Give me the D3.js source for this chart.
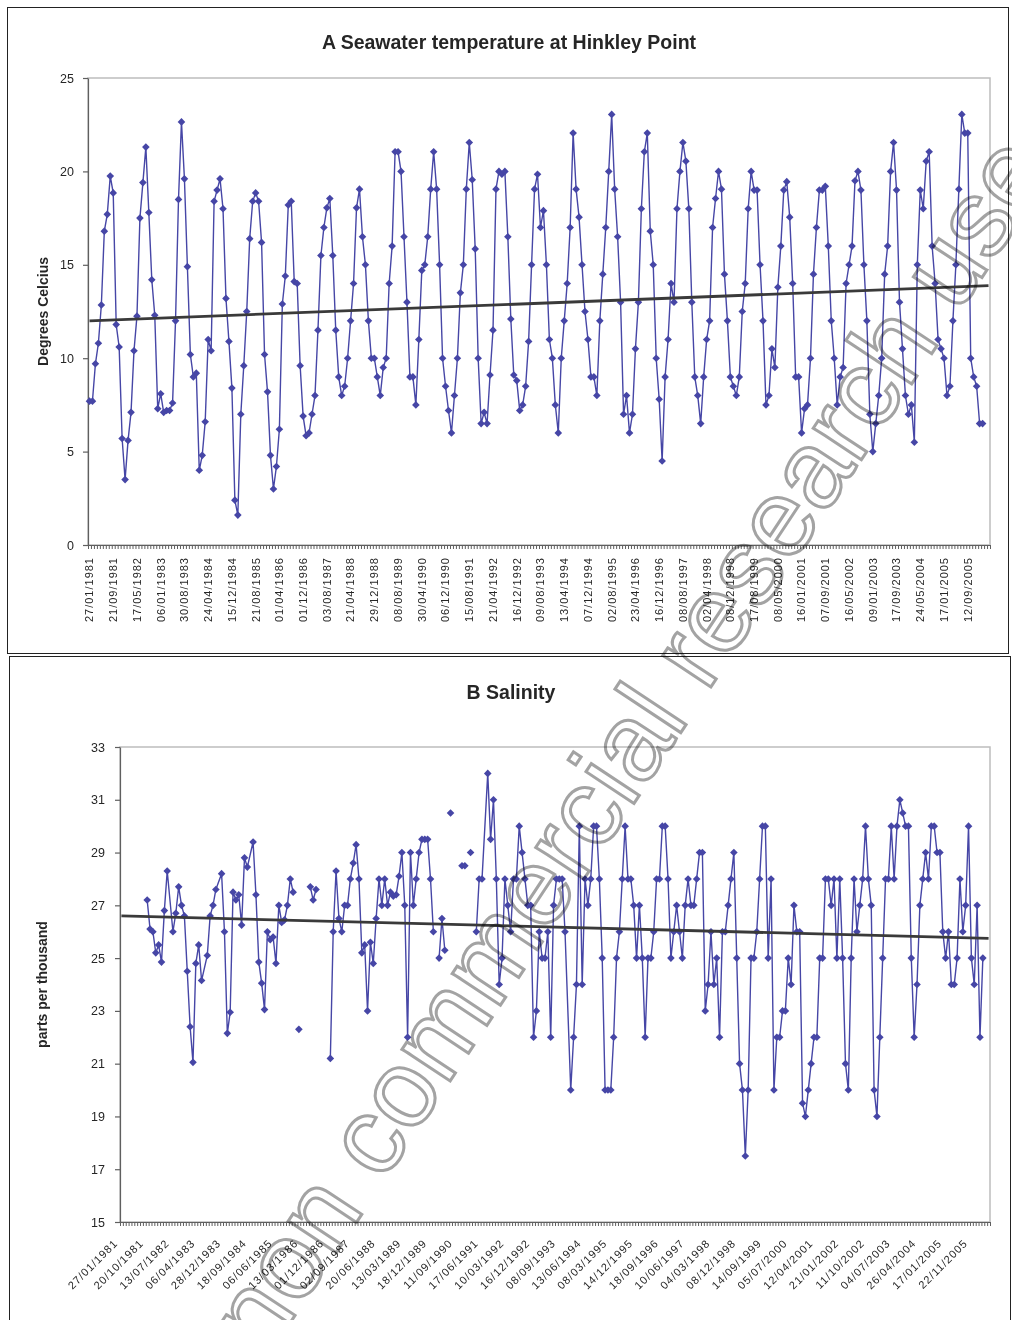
<!DOCTYPE html>
<html>
<head>
<meta charset="utf-8">
<script src="https://cdn.jsdelivr.net/npm/d3@7"></script>
<style>
    body { margin: 0; background: #fff; }
    svg text { font-family: "Liberation Sans", Arial, sans-serif; }
</style>
</head>
<body>
<div id="chart"></div>
<script>
// Missing salinity values come in two kinds, as in the spreadsheet
const NA = null; // no reading, the line carries on to the next one
const BL = NaN;  // blank cell, the line breaks

// Sampling dates are shared by both charts (roughly monthly, 1981-2006)
const sampleCount = 304;

const tempLabels = ["27/01/1981", "21/09/1981", "17/05/1982", "06/01/1983", "30/08/1983",
    "24/04/1984", "15/12/1984", "21/08/1985", "01/04/1986", "01/12/1986", "03/08/1987",
    "21/04/1988", "29/12/1988", "08/08/1989", "30/04/1990", "06/12/1990", "15/08/1991",
    "21/04/1992", "16/12/1992", "09/08/1993", "13/04/1994", "07/12/1994", "02/08/1995",
    "23/04/1996", "16/12/1996", "08/08/1997", "02/04/1998", "08/12/1998", "17/08/1999",
    "08/05/2000", "16/01/2001", "07/09/2001", "16/05/2002", "09/01/2003", "17/09/2003",
    "24/05/2004", "17/01/2005", "12/09/2005"];
const tempLabelEvery = 8;
const tempTicks = [0, 5, 10, 15, 20, 25];

const temperature = [
    7.7, 7.7, 9.7, 10.8, 12.85, 16.8, 17.7, 19.75, 18.85, 11.8,
    10.6, 5.7, 3.5, 5.6, 7.1, 10.4, 12.25, 17.5, 19.4, 21.3,
    17.8, 14.2, 12.3, 7.3, 8.1, 7.1, 7.2, 7.2, 7.6, 12.0,
    18.5, 22.65, 19.6, 14.9, 10.2, 9.0, 9.2, 4.0, 4.8, 6.6,
    11.0, 10.4, 18.4, 19.0, 19.6, 18.0, 13.2, 10.9, 8.4, 2.4,
    1.6, 7.0, 9.6, 12.5, 16.4, 18.4, 18.85, 18.4, 16.2, 10.2,
    8.2, 4.8, 3.0, 4.2, 6.2, 12.9, 14.4, 18.2, 18.4, 14.1,
    14.0, 9.6, 6.9, 5.85, 6.0, 7.0, 8.0, 11.5, 15.5, 17.0,
    18.05, 18.55, 15.5, 11.5, 9.0, 8.0, 8.5, 10.0, 12.0, 14.0,
    18.05, 19.05, 16.5, 15.0, 12.0, 10.0, 10.0, 9.0, 8.0, 9.5,
    10.0, 14.0, 16.0, 21.05, 21.05, 20.0, 16.5, 13.0, 9.0, 9.0,
    7.5, 11.0, 14.7, 15.0, 16.5, 19.05, 21.05, 19.05, 15.0, 10.0,
    8.5, 7.2, 6.0, 8.0, 10.0, 13.5, 15.0, 19.05, 21.55, 19.55,
    15.85, 10.0, 6.5, 7.1, 6.5, 9.1, 11.5, 19.05, 20.0, 19.85,
    20.0, 16.5, 12.1, 9.1, 8.8, 7.2, 7.5, 8.5, 10.9, 15.0,
    19.05, 19.85, 17.0, 17.9, 15.0, 11.0, 10.0, 7.5, 6.0, 10.0,
    12.0, 14.0, 17.0, 22.05, 19.05, 17.55, 15.0, 12.5, 11.0, 9.0,
    9.0, 8.0, 12.0, 14.5, 17.0, 20.0, 23.05, 19.05, 16.5, 13.0,
    7.0, 8.0, 6.0, 7.0, 10.5, 13.0, 18.0, 21.05, 22.05, 16.8,
    15.0, 10.0, 7.8, 4.5, 9.0, 11.0, 14.0, 13.0, 18.0, 20.0,
    21.55, 20.55, 18.0, 13.0, 9.0, 8.0, 6.5, 9.0, 11.0, 12.0,
    17.0, 18.55, 20.0, 19.05, 14.5, 12.0, 9.0, 8.5, 8.0, 9.0,
    12.5, 14.0, 18.0, 20.0, 19.0, 19.0, 15.0, 12.0, 7.5, 8.0,
    10.5, 9.5, 13.8, 16.0, 19.0, 19.45, 17.55, 14.0, 9.0, 9.0,
    6.0, 7.3, 7.5, 10.0, 14.5, 17.0, 19.0, 19.0, 19.2, 16.0,
    12.0, 10.0, 7.5, 9.0, 9.5, 14.0, 15.0, 16.0, 19.5, 20.0,
    19.0, 15.0, 12.0, 7.0, 5.0, 6.5, 8.0, 10.0, 14.5, 16.0,
    20.0, 21.55, 19.0, 13.0, 10.5, 8.0, 7.0, 7.5, 5.5, 15.0,
    19.0, 18.0, 20.55, 21.05, 16.0, 14.0, 11.0, 10.5, 10.0, 8.0,
    8.5, 12.0, 15.0, 19.05, 23.05, 22.05, 22.05, 10.0, 9.0, 8.5,
    6.5, 6.5
];
// linear trend, value at first and last date
const tempTrend = [12.0, 13.88];

const salLabels = ["27/01/1981", "20/10/1981", "13/07/1982", "06/04/1983", "28/12/1983",
    "18/09/1984", "06/06/1985", "13/03/1986", "01/12/1986", "02/09/1987", "20/06/1988",
    "13/03/1989", "18/12/1989", "11/09/1990", "17/06/1991", "10/03/1992", "16/12/1992",
    "08/09/1993", "13/06/1994", "08/03/1995", "14/12/1995", "18/09/1996", "10/06/1997",
    "04/03/1998", "08/12/1998", "14/09/1999", "05/07/2000", "12/04/2001", "21/01/2002",
    "11/10/2002", "04/07/2003", "26/04/2004", "17/01/2005", "22/11/2005"];
const salLabelEvery = 9;
const salTicks = [15, 17, 19, 21, 23, 25, 27, 29, 31, 33];

const salinity = [
    BL, BL, BL, BL, BL, BL, BL, BL, BL, 27.2,
    26.1, 26.0, 25.2, 25.5, 24.85, 26.8, 28.3, NA, 26.0, 26.7,
    27.7, 27.0, 26.6, 24.5, 22.4, 21.05, 24.8, 25.5, 24.15, NA,
    25.1, 26.6, 27.0, 27.6, NA, 28.2, 26.0, 22.15, 22.95, 27.5,
    27.2, 27.4, 26.25, 28.8, 28.45, NA, 29.4, 27.4, 24.85, 24.05,
    23.05, 26.0, 25.7, 25.8, 24.8, 27.0, 26.35, 26.45, 27.0, 28.0,
    27.5, BL, 22.3, BL, BL, BL, 27.7, 27.2, 27.6, BL,
    BL, BL, BL, 21.2, 26.0, 28.3, 26.5, 26.0, 27.0, 27.0,
    28.0, 28.6, 29.3, 28.0, 25.2, 25.5, 23.0, 25.6, 24.8, 26.5,
    28.0, 27.0, 28.0, 27.0, 27.5, 27.35, 27.4, 28.1, 29.0, 27.0,
    22.0, 29.0, 27.0, 28.0, 29.0, 29.5, 29.5, 29.5, 28.0, 26.0,
    BL, 25.0, 26.5, 25.3, BL, 30.5, BL, BL, BL, 28.5,
    28.5, BL, 29.0, BL, 26.0, 28.0, 28.0, NA, 32.0, 29.5,
    31.0, 28.0, 24.0, 25.0, 28.0, 27.0, 26.0, 28.0, 28.0, 30.0,
    29.0, 28.0, 27.0, 27.0, 22.0, 23.0, 26.0, 25.0, 25.0, 26.0,
    22.0, 27.0, 28.0, 28.0, 28.0, 26.0, NA, 20.0, 22.0, 24.0,
    30, 24, 28, 27, 28, 30, 30, 28, 25, 20,
    20, 20, 22, 25, 26, 28, 30, 28, 28, 27,
    25, 27, 25, 22, 25, 25, 26, 28, 28, 30,
    30, 28, 25, 26, 27, 26, 25, 27, 28, 27,
    27, 28, 29, 29, 23, 24, 26, 24, 25, 22,
    26, 26, 27, 28, 29, 25, 21, 20, 17.5, 20,
    25, 25, 26, 28, 30, 30, 25, 28, 20, 22,
    22, 23, 23, 25, 24, 27, 26, 26, 19.5, 19,
    20, 21, 22, 22, 25, 25, 28, 28, 27, 28,
    25, 28, 25, 21, 20, 25, 28, 26, 27, 28,
    30, 28, 27, 20, 19, 22, 25, 28, 28, 30,
    28, 30, 31, 30.5, 30, 30, 25, 22, 24, 27,
    28, 29, 28, 30, 30, 29, 29, 26, 25, 26,
    24, 24, 25, 28, 26, 27, 30, 25, 24, 27,
    22, 25, BL, BL
];
const salTrend = [26.6, 25.75];

const seriesColor = "#4646a6";
const axisColor = "#5f5f5f";
const fontStack = "Liberation Sans, Arial, sans-serif";

const svg = d3
    .select("#chart")
    .append("svg")
    .attr("width", 1012)
    .attr("height", 1320);

function drawChart(o) {
    const g = svg.append("g");

    // Outer chart border
    g.append("rect")
        .attr("x", o.frame[0])
        .attr("y", o.frame[1])
        .attr("width", o.frame[2])
        .attr("height", o.frame[3])
        .attr("fill", "#fff")
        .attr("stroke", "#222")
        .attr("stroke-width", 1);

    const x = d3.scaleBand().domain(d3.range(sampleCount)).range([o.left, o.right]);
    const xEdge = d3.scaleLinear().domain([0, sampleCount]).range([o.left, o.right]);
    const y = d3.scaleLinear().domain(o.yDomain).range([o.bottom, o.top]);
    const cx = (i) => x(i) + x.bandwidth() / 2;

    // Plot area border (light grey on top and right)
    g.append("rect")
        .attr("x", o.left)
        .attr("y", o.top)
        .attr("width", o.right - o.left)
        .attr("height", o.bottom - o.top)
        .attr("fill", "none")
        .attr("stroke", "#bdbdbd")
        .attr("stroke-width", 1.5);

    // Title, centred on the chart frame
    g.append("text")
        .attr("x", o.frame[0] + o.frame[2] / 2 + 1)
        .attr("y", o.titleY)
        .attr("text-anchor", "middle")
        .attr("font-size", "19.5px")
        .attr("font-weight", "bold")
        .attr("fill", "#262626")
        .text(o.title);

    // Y axis title
    g.append("text")
        .attr("transform", `translate(${o.yTitleX},${(o.top + o.bottom) / 2}) rotate(-90)`)
        .attr("text-anchor", "middle")
        .attr("font-size", "14px")
        .attr("font-weight", "bold")
        .attr("fill", "#262626")
        .text(o.yTitle);

    // Y axis
    const yAxis = g.append("g")
        .attr("transform", `translate(${o.left},0)`)
        .attr("font-family", fontStack)
        .call(d3.axisLeft(y).tickValues(o.yTicks).tickSize(5).tickSizeOuter(0).tickPadding(o.yPad));
    yAxis.selectAll("path, line").attr("stroke", axisColor).attr("stroke-width", 1.2);
    yAxis.selectAll("text").attr("font-size", "12.5px").attr("fill", "#262626");

    // X axis: one small tick between each pair of dates
    const comb = g.append("g")
        .attr("transform", `translate(0,${o.bottom})`)
        .call(d3.axisBottom(xEdge).tickValues(d3.range(sampleCount + 1)).tickSize(4).tickSizeOuter(0).tickFormat(""));
    comb.selectAll("path, line").attr("stroke", axisColor);
    comb.select(".domain").attr("stroke-width", 1.2);

    // X labels, every n-th date
    const labelIdx = o.labels.map((_, k) => k * o.labelEvery);
    const xl = g.append("g")
        .attr("transform", `translate(0,${o.bottom})`)
        .attr("font-family", fontStack)
        .call(d3.axisBottom(x).tickValues(labelIdx).tickSize(0).tickFormat((d, k) => o.labels[k]));
    xl.select(".domain").remove();
    xl.selectAll("text")
        .attr("x", 0)
        .attr("y", 0)
        .attr("dy", o.labelDy)
        .attr("transform", o.labelTransform)
        .attr("text-anchor", "end")
        .attr("font-size", "11px")
        .attr("letter-spacing", "1px")
        .attr("fill", "#262626");

    // Series
    const pts = o.values.map((v, i) => ({ i, v })).filter((d) => d.v !== null);
    const line = d3.line()
        .defined((d) => !Number.isNaN(d.v))
        .x((d) => cx(d.i))
        .y((d) => y(d.v));

    g.append("path")
        .datum(pts)
        .attr("d", line)
        .attr("fill", "none")
        .attr("stroke", seriesColor)
        .attr("stroke-width", 1.4);

    g.selectAll(".marker")
        .data(pts.filter((d) => Number.isFinite(d.v)))
        .enter()
        .append("path")
        .attr("class", "marker")
        .attr("d", d3.symbol(d3.symbolSquare, 29))
        .attr("transform", (d) => `translate(${cx(d.i)},${y(d.v)}) rotate(45)`)
        .attr("fill", seriesColor);

    // Linear trend line
    g.append("line")
        .attr("x1", cx(0))
        .attr("y1", y(o.trend[0]))
        .attr("x2", cx(sampleCount - 1))
        .attr("y2", y(o.trend[1]))
        .attr("stroke", "#3a3a3a")
        .attr("stroke-width", 2.8);
}

drawChart({
    frame: [7.5, 7.5, 1001, 646],
    left: 88, right: 990, top: 78, bottom: 545,
    yDomain: [0, 25], yTicks: tempTicks, yPad: 9,
    title: "A Seawater temperature at Hinkley Point", titleY: 49,
    yTitle: "Degrees Celcius", yTitleX: 48,
    labels: tempLabels, labelEvery: tempLabelEvery,
    labelTransform: "translate(0,12) rotate(-90)", labelDy: "0.35em",
    values: temperature, trend: tempTrend
});

drawChart({
    frame: [9.5, 656.5, 1001, 700],
    left: 120, right: 990, top: 747, bottom: 1222,
    yDomain: [15, 33], yTicks: salTicks, yPad: 10,
    title: "B Salinity", titleY: 699,
    yTitle: "parts per thousand", yTitleX: 47,
    labels: salLabels, labelEvery: salLabelEvery,
    labelTransform: "translate(-3,22) rotate(-45)", labelDy: "0",
    values: salinity, trend: salTrend
});

// Watermark over both charts
svg.append("text")
    .attr("transform", "translate(660,764) rotate(-56.5)")
    .attr("text-anchor", "middle")
    .attr("font-size", "109px")
    .attr("fill", "none")
    .attr("stroke", "#a3a3a3")
    .attr("stroke-width", 3)
    .style("mix-blend-mode", "multiply")
    .text("non commercial research use");
</script>
</body>
</html>
